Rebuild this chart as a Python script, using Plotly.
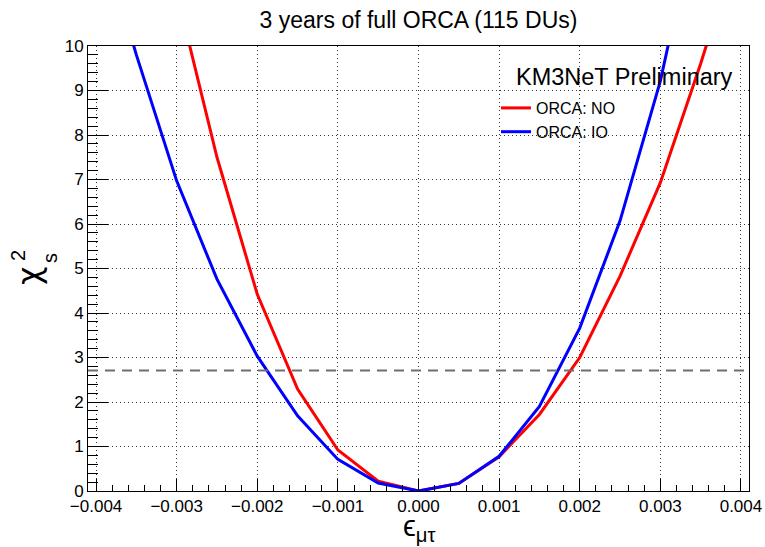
import plotly.graph_objects as go

# ---- data ----
eps_mutau = [-0.004, -0.0035, -0.003, -0.0025, -0.002, -0.0015, -0.001, -0.0005,
             0.0, 0.0005, 0.001, 0.0015, 0.002, 0.0025, 0.003, 0.0035, 0.004]
chi2_NO = [17.0, 14.0, 11.2, 7.5, 4.42, 2.29, 0.92, 0.22,
           0.0, 0.17, 0.77, 1.72, 3.0, 4.83, 6.93, 9.6, 12.5]
chi2_IO = [12.9, 9.8, 6.97, 4.76, 3.03, 1.69, 0.71, 0.18,
           0.0, 0.17, 0.78, 1.9, 3.66, 6.07, 9.21, 13.2, 17.5]
cl_threshold = 2.71
series_names = ["ORCA: NO", "ORCA: IO"]
title_text = "3 years of full ORCA (115 DUs)"
label_text = "KM3NeT Preliminary"

W, H = 765, 547
L, R, T, B = 88, 16, 46, 56
FONT = "Liberation Sans, Arial, Helvetica, sans-serif"

fig = go.Figure()
fig.add_trace(go.Scatter(x=eps_mutau, y=chi2_NO, mode="lines", name=series_names[0],
                         line=dict(color="#ff0000", width=3)))
fig.add_trace(go.Scatter(x=eps_mutau, y=chi2_IO, mode="lines", name=series_names[1],
                         line=dict(color="#0000ff", width=3)))

fig.add_hline(y=cl_threshold, line=dict(color="#6e6e6e", width=2, dash="10px,7px"))

grid = dict(showgrid=True, gridcolor="#333", gridwidth=1, griddash="1px,3px")

fig.update_xaxes(range=[-0.0041, 0.0041], dtick=0.001, tick0=0, tickformat=".3f",
                 ticks="inside", ticklen=12, tickwidth=1, tickcolor="black",
                 minor=dict(dtick=0.0002, ticks="inside", ticklen=6, tickcolor="black", showgrid=False),
                 showline=True, linecolor="black", linewidth=1, mirror=True,
                 zeroline=False, tickfont=dict(size=17, color="black", family=FONT),
                 automargin=False,
                 **grid)
fig.update_yaxes(range=[0, 10], dtick=1, tick0=0,
                 ticks="inside", ticklen=20, tickwidth=1, tickcolor="black",
                 minor=dict(dtick=0.2, ticks="inside", ticklen=10, tickcolor="black", showgrid=False),
                 showline=True, linecolor="black", linewidth=1, mirror=True,
                 zeroline=False, tickfont=dict(size=17, color="black", family=FONT),
                 automargin=False,
                 **grid)

def px_x(p):
    return (p - L) / (W - L - R)

def px_y(p):
    return 1 - (p - T) / (H - T - B)

annotations = [
    dict(text=label_text, x=px_x(624), y=px_y(77), xref="paper", yref="paper",
         showarrow=False, xanchor="center", yanchor="middle",
         font=dict(size=23.5, color="black", family=FONT)),
    # x-axis title: epsilon_mu tau
    dict(text="ϵ<sub>μτ</sub>", x=px_x(419), y=px_y(528), xref="paper", yref="paper",
         showarrow=False, xanchor="center", yanchor="middle",
         font=dict(size=29, color="black", family=FONT)),
    # y-axis title: chi^2_s (stacked super/subscript)
    dict(text="χ", x=px_x(29), y=px_y(276), xref="paper", yref="paper",
         showarrow=False, textangle=-90, xanchor="center", yanchor="middle",
         font=dict(size=32, color="black", family="DejaVu Sans, sans-serif")),
    dict(text="2", x=px_x(18), y=px_y(256), xref="paper", yref="paper",
         showarrow=False, textangle=-90, xanchor="center", yanchor="middle",
         font=dict(size=20, color="black", family=FONT)),
    dict(text="s", x=px_x(50), y=px_y(258), xref="paper", yref="paper",
         showarrow=False, textangle=-90, xanchor="center", yanchor="middle",
         font=dict(size=20, color="black", family=FONT)),
]

fig.update_layout(
    width=W, height=H,
    margin=dict(l=L, r=R, t=T, b=B, pad=0, autoexpand=False),
    paper_bgcolor="white", plot_bgcolor="white",
    title=dict(text=title_text, x=0.5, xref="paper", y=1 - 20 / H, yref="container",
               xanchor="center", yanchor="middle",
               font=dict(size=23, color="black", family=FONT)),
    showlegend=True,
    legend=dict(x=px_x(496), y=px_y(91), xanchor="left", yanchor="top",
                bgcolor="rgba(0,0,0,0)", borderwidth=0,
                font=dict(size=16, color="black", family=FONT), tracegroupgap=0),
    annotations=annotations,
)

fig.write_html("out.html")
